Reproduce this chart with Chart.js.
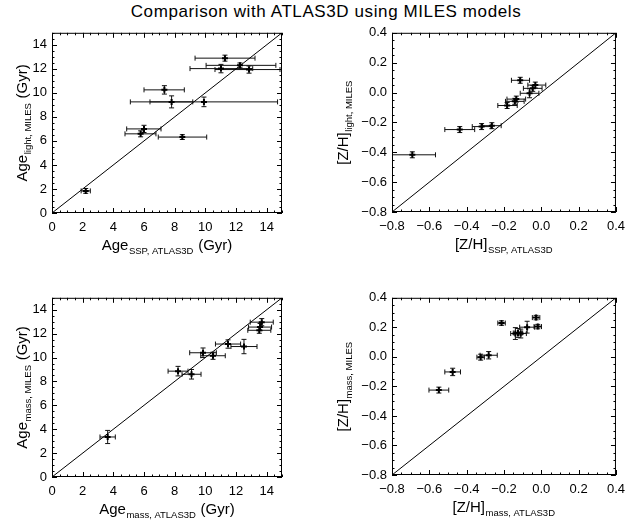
<!DOCTYPE html>
<html>
<head>
<meta charset="utf-8">
<script src="https://cdn.jsdelivr.net/npm/chart.js@4.4.1/dist/chart.umd.min.js"></script>
<style>
  body { margin: 0; width: 632px; height: 527px; background: #fff; overflow: hidden; position: relative; font-family: 'Liberation Sans', sans-serif; }
  #title { position: absolute; top: 2px; left: 10px; width: 632px; text-align: center; font-size: 17px; letter-spacing: 0.6px; line-height: 20px; color: #000; }
  canvas { position: absolute; }
</style>
</head>
<body>
<div id="title">Comparison with ATLAS3D using MILES models</div>
<canvas id="c1" width="300" height="245" style="left:0;top:20px"></canvas>
<canvas id="c2" width="312" height="245" style="left:320px;top:20px"></canvas>
<canvas id="c3" width="300" height="242" style="left:0;top:285px"></canvas>
<canvas id="c4" width="312" height="242" style="left:320px;top:285px"></canvas>
<script>
// panel 1: age SSP (ATLAS3D) vs age light-weighted (MILES)
const ageSsp      = [2.2, 11.28, 12.26, 11.02, 12.85, 7.33, 7.8, 9.91, 6.0, 5.78, 8.5]
const ageLight    = [1.84, 12.89, 12.29, 12.02, 11.94, 10.25, 9.25, 9.25, 7.0, 6.59, 6.32]
const ageSspErrLo = [0.3, 1.95, 2.21, 2.02, 2.22, 1.33, 2.69, 3.52, 1.13, 1.02, 1.57]
const ageSspErrHi = [0.3, 1.96, 2.34, 2.07, 2.02, 1.3, 1.38, 4.8, 1.11, 1.0, 1.59]
const ageLightErr = [0.2, 0.25, 0.2, 0.35, 0.3, 0.35, 0.5, 0.4, 0.3, 0.25, 0.2]

// panel 2: [Z/H] SSP (ATLAS3D) vs [Z/H] light (MILES)
const zhSsp      = [-0.691, -0.437, -0.32, -0.265, -0.183, -0.142, -0.134, -0.113, -0.063, -0.046, -0.032]
const zhLight    = [-0.417, -0.248, -0.228, -0.222, -0.087, -0.059, -0.044, 0.082, -0.005, 0.028, 0.05]
const zhSspErrLo = [0.12, 0.08, 0.05, 0.05, 0.05, 0.05, 0.05, 0.047, 0.05, 0.05, 0.04]
const zhSspErrHi = [0.124, 0.08, 0.05, 0.05, 0.054, 0.05, 0.05, 0.05, 0.05, 0.05, 0.056]
const zhLightErr = [0.02, 0.02, 0.02, 0.02, 0.02, 0.02, 0.02, 0.02, 0.03, 0.02, 0.02]

// panel 3: age mass-weighted, ATLAS3D vs MILES
const ageMassA3d    = [3.63, 8.22, 9.1, 9.85, 10.5, 11.48, 12.52, 13.68, 13.57, 13.52]
const ageMassMiles  = [3.35, 8.86, 8.6, 10.4, 10.15, 11.13, 10.92, 12.96, 12.55, 12.28]
const ageMassA3dErr = [0.5, 0.65, 0.62, 0.87, 0.8, 0.82, 0.85, 0.75, 0.75, 0.75]
const ageMassMilErr = [0.55, 0.4, 0.4, 0.4, 0.3, 0.35, 0.6, 0.3, 0.3, 0.25]

// panel 4: [Z/H] mass-weighted, ATLAS3D vs MILES
const zhMassA3d    = [-0.549, -0.475, -0.325, -0.282, -0.213, -0.139, -0.125, -0.11, -0.076, -0.028, -0.019]
const zhMassMiles  = [-0.225, -0.102, -0.002, 0.011, 0.229, 0.158, 0.162, 0.158, 0.201, 0.266, 0.205]
const zhMassA3dErr = [0.053, 0.042, 0.02, 0.046, 0.02, 0.025, 0.025, 0.03, 0.04, 0.02, 0.02]
const zhMassMilErr = [0.02, 0.025, 0.02, 0.025, 0.015, 0.04, 0.03, 0.03, 0.04, 0.015, 0.015]

// one-to-one lines
const ageDiag = [{ x: 0, y: 0 }, { x: 15, y: 15 }]
const zhDiag = [{ x: -0.8, y: -0.8 }, { x: 0.4, y: 0.4 }]

// axis titles: [main, subscript, tail]
const titles = {
	c1: { x: ['Age', 'SSP, ATLAS3D', ' (Gyr)'], y: ['Age', 'light, MILES', ' (Gyr)'] },
	c2: { x: ['[Z/H]', 'SSP, ATLAS3D', ''], y: ['[Z/H]', 'light, MILES', ''] },
	c3: { x: ['Age', 'mass, ATLAS3D', ' (Gyr)'], y: ['Age', 'mass, MILES', ' (Gyr)'] },
	c4: { x: ['[Z/H]', 'mass, ATLAS3D', ''], y: ['[Z/H]', 'mass, MILES', ''] },
}

const FONT = "'Liberation Sans', sans-serif"

const frameTicks = {
	id: 'frameTicks',
	afterDatasetsDraw(chart, args, opts) {
		const { ctx, chartArea: a, scales } = chart
		ctx.save()
		ctx.strokeStyle = '#000'
		ctx.lineWidth = 1
		ctx.strokeRect(a.left + 0.5, a.top + 0.5, a.right - a.left - 1, a.bottom - a.top - 1)
		ctx.beginPath()
		const mark = (scale, horiz) => {
			const n = Math.round((scale.max - scale.min) / opts.minor)
			for (let i = 0; i <= n; i++) {
				const v = scale.min + i * opts.minor
				const r = v / opts.major
				const len = Math.abs(r - Math.round(r)) < 1e-6 ? 5 : 2.5
				const p = Math.round(scale.getPixelForValue(v)) + 0.5
				if (horiz) {
					ctx.moveTo(p, a.bottom); ctx.lineTo(p, a.bottom - len)
					ctx.moveTo(p, a.top); ctx.lineTo(p, a.top + len)
				} else {
					ctx.moveTo(a.left, p); ctx.lineTo(a.left + len, p)
					ctx.moveTo(a.right, p); ctx.lineTo(a.right - len, p)
				}
			}
		}
		mark(scales.x, true)
		mark(scales.y, false)
		ctx.stroke()
		ctx.restore()
	},
}

const errorBars = {
	id: 'errorBars',
	beforeDatasetsDraw(chart) {
		const { ctx, chartArea: a, scales: { x, y } } = chart
		ctx.save()
		ctx.beginPath()
		ctx.rect(a.left, a.top, a.right - a.left, a.bottom - a.top)
		ctx.clip()
		ctx.strokeStyle = '#111'
		ctx.lineWidth = 1
		ctx.beginPath()
		chart.data.datasets.forEach(ds => {
			if (!ds.errors) return
			const e = ds.errors
			ds.data.forEach((pt, i) => {
				const px = x.getPixelForValue(pt.x)
				const py = y.getPixelForValue(pt.y)
				const x0 = x.getPixelForValue(pt.x - e.xLo[i])
				const x1 = x.getPixelForValue(pt.x + e.xHi[i])
				const y0 = y.getPixelForValue(pt.y - e.yLo[i])
				const y1 = y.getPixelForValue(pt.y + e.yHi[i])
				ctx.moveTo(x0, py); ctx.lineTo(x1, py)
				ctx.moveTo(x0, py - 2.5); ctx.lineTo(x0, py + 2.5)
				ctx.moveTo(x1, py - 2.5); ctx.lineTo(x1, py + 2.5)
				ctx.moveTo(px, y0); ctx.lineTo(px, y1)
				ctx.moveTo(px - 2.5, y0); ctx.lineTo(px + 2.5, y0)
				ctx.moveTo(px - 2.5, y1); ctx.lineTo(px + 2.5, y1)
			})
		})
		ctx.stroke()
		ctx.restore()
	},
}

function subText(ctx, parts, cx, cy, rotate) {
	const big = '15px ' + FONT
	const small = '9.5px ' + FONT
	ctx.font = big
	const w0 = ctx.measureText(parts[0]).width
	const w2 = ctx.measureText(parts[2]).width
	ctx.font = small
	const w1 = ctx.measureText(parts[1]).width
	const total = w0 + w1 + w2 + 1
	ctx.save()
	ctx.translate(cx, cy)
	if (rotate) ctx.rotate(-Math.PI / 2)
	ctx.fillStyle = '#000'
	ctx.textBaseline = 'alphabetic'
	let sx = -total / 2
	ctx.font = big
	ctx.fillText(parts[0], sx, 5)
	sx += w0 + 0.5
	ctx.font = small
	ctx.fillText(parts[1], sx, 9)
	sx += w1 + 0.5
	ctx.font = big
	ctx.fillText(parts[2], sx, 5)
	ctx.restore()
}

const axisTitles = {
	id: 'axisTitles',
	afterDraw(chart, args, opts) {
		const { ctx, chartArea: a } = chart
		subText(ctx, opts.x, (a.left + a.right) / 2, a.bottom + 32, false)
		subText(ctx, opts.y, a.left - opts.yOff, (a.top + a.bottom) / 2, true)
	},
}

const fmtInt = v => String(Math.round(v))
const fmtDec = v => {
	const s = (Math.abs(v) < 1e-9 ? 0 : v).toFixed(1)
	return s.replace('-', '\u2212')
}

function axis(min, max, step, fmt, side) {
	return {
		type: 'linear',
		min: min,
		max: max,
		grid: { display: false, drawTicks: false },
		border: { display: false },
		ticks: {
			stepSize: step,
			includeBounds: false,
			autoSkip: false,
			maxRotation: 0,
			padding: side === 'x' ? 7 : 5,
			color: '#000',
			font: { family: FONT, size: 13 },
			callback: fmt,
		},
	}
}

function panel(id, o) {
	const xs = axis(o.min, o.max, o.major, o.fmt, 'x')
	xs.afterFit = s => { s.height = o.xh }
	const ys = axis(o.min, o.max, o.major, o.fmt, 'y')
	ys.afterFit = s => { s.width = o.yw }
	new Chart(document.getElementById(id), {
		type: 'scatter',
		data: {
			datasets: [
				{
					type: 'line',
					data: o.diag,
					borderColor: '#000',
					borderWidth: 1,
					pointRadius: 0,
					fill: false,
				},
				{
					data: o.x.map((v, i) => ({ x: v, y: o.y[i] })),
					pointStyle: 'cross',
					pointRadius: 3,
					borderWidth: 2,
					borderColor: '#000',
					backgroundColor: '#000',
					errors: { xLo: o.xLo, xHi: o.xHi, yLo: o.yErr, yHi: o.yErr },
				},
			],
		},
		options: {
			responsive: false,
			animation: false,
			events: [],
			layout: { padding: { top: o.top, right: o.right, left: 0, bottom: 0 } },
			plugins: {
				legend: { display: false },
				tooltip: { enabled: false },
				frameTicks: { major: o.major, minor: o.minor },
				axisTitles: { x: titles[id].x, y: titles[id].y, yOff: o.yOff },
			},
			scales: { x: xs, y: ys },
		},
		plugins: [errorBars, frameTicks, axisTitles],
	})
}

panel('c1', {
	x: ageSsp, y: ageLight, xLo: ageSspErrLo, xHi: ageSspErrHi, yErr: ageLightErr, diag: ageDiag,
	min: 0, max: 15, major: 2, minor: 0.5, fmt: fmtInt,
	top: 8, right: 18, yw: 52, xh: 52, yOff: 30,
})
panel('c2', {
	x: zhSsp, y: zhLight, xLo: zhSspErrLo, xHi: zhSspErrHi, yErr: zhLightErr, diag: zhDiag,
	min: -0.8, max: 0.4, major: 0.2, minor: 0.05, fmt: fmtDec,
	top: 9, right: 12, yw: 72, xh: 53, yOff: 49,
})
panel('c3', {
	x: ageMassA3d, y: ageMassMiles, xLo: ageMassA3dErr, xHi: ageMassA3dErr, yErr: ageMassMilErr, diag: ageDiag,
	min: 0, max: 15, major: 2, minor: 0.5, fmt: fmtInt,
	top: 8, right: 18, yw: 52, xh: 50, yOff: 30,
})
panel('c4', {
	x: zhMassA3d, y: zhMassMiles, xLo: zhMassA3dErr, xHi: zhMassA3dErr, yErr: zhMassMilErr, diag: zhDiag,
	min: -0.8, max: 0.4, major: 0.2, minor: 0.05, fmt: fmtDec,
	top: 8, right: 12, yw: 72, xh: 52, yOff: 49,
})
</script>
</body>
</html>
